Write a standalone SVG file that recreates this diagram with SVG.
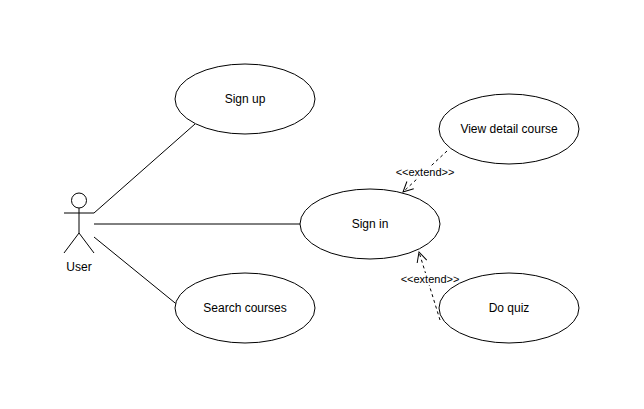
<svg xmlns="http://www.w3.org/2000/svg" width="644" height="409" viewBox="0 0 644 409">
<style>
.uc{fill:#fff;stroke:#000;stroke-width:1}
.t{font-family:"Liberation Sans",Arial,sans-serif;font-size:12px;fill:#000;text-anchor:middle;dominant-baseline:central}
.s{font-family:"Liberation Sans",Arial,sans-serif;font-size:11px;fill:#000;text-anchor:middle;dominant-baseline:central}
.ln{stroke:#000;stroke-width:1;fill:none}
.d{stroke:#000;stroke-width:1;fill:none;stroke-dasharray:3 3}
.bg{fill:#fff}
</style>
<defs>
<marker id="open" viewBox="0 0 12 12" refX="11" refY="6" markerWidth="12" markerHeight="12" markerUnits="userSpaceOnUse" orient="auto">
<path d="M1,1 L11,6 L1,11" fill="none" stroke="#000" stroke-width="1"/>
</marker>
</defs>
<rect width="644" height="409" fill="#fff"/>
<g id="connectors">
<line class="ln" x1="94" y1="213" x2="195" y2="124"/>
<line class="ln" x1="94" y1="224" x2="300" y2="224"/>
<line class="ln" x1="94" y1="237" x2="196" y2="320"/>
<line class="d" x1="447" y1="151" x2="403" y2="192" marker-end="url(#open)"/>
<line class="d" x1="440" y1="320" x2="419" y2="252" marker-end="url(#open)"/>
<rect class="bg" x="396" y="166" width="58" height="12"/>
<text class="s" x="425" y="172">&lt;&lt;extend&gt;&gt;</text>
<rect class="bg" x="401" y="273" width="58" height="12"/>
<text class="s" x="430" y="279">&lt;&lt;extend&gt;&gt;</text>
</g>
<g id="user">
<circle cx="79" cy="200.5" r="7.5" class="ln"/>
<line class="ln" x1="79" y1="208" x2="79" y2="233"/>
<line class="ln" x1="64" y1="213" x2="94" y2="213"/>
<line class="ln" x1="79" y1="233" x2="64" y2="253"/>
<line class="ln" x1="79" y1="233" x2="94" y2="253"/>
<text class="t" x="79" y="267">User</text>
</g>
<g id="signup">
<ellipse class="uc" cx="245" cy="99" rx="70" ry="35"/>
<text class="t" x="245" y="99">Sign up</text>
</g>
<g id="signin">
<ellipse class="uc" cx="370" cy="224" rx="70" ry="35"/>
<text class="t" x="370" y="224">Sign in</text>
</g>
<g id="search">
<ellipse class="uc" cx="245" cy="308" rx="70" ry="35"/>
<text class="t" x="245" y="308">Search courses</text>
</g>
<g id="viewdetail">
<ellipse class="uc" cx="509" cy="129" rx="70" ry="35"/>
<text class="t" x="509" y="129">View detail course</text>
</g>
<g id="doquiz">
<ellipse class="uc" cx="509" cy="308" rx="70" ry="35"/>
<text class="t" x="509" y="308">Do quiz</text>
</g>
</svg>
